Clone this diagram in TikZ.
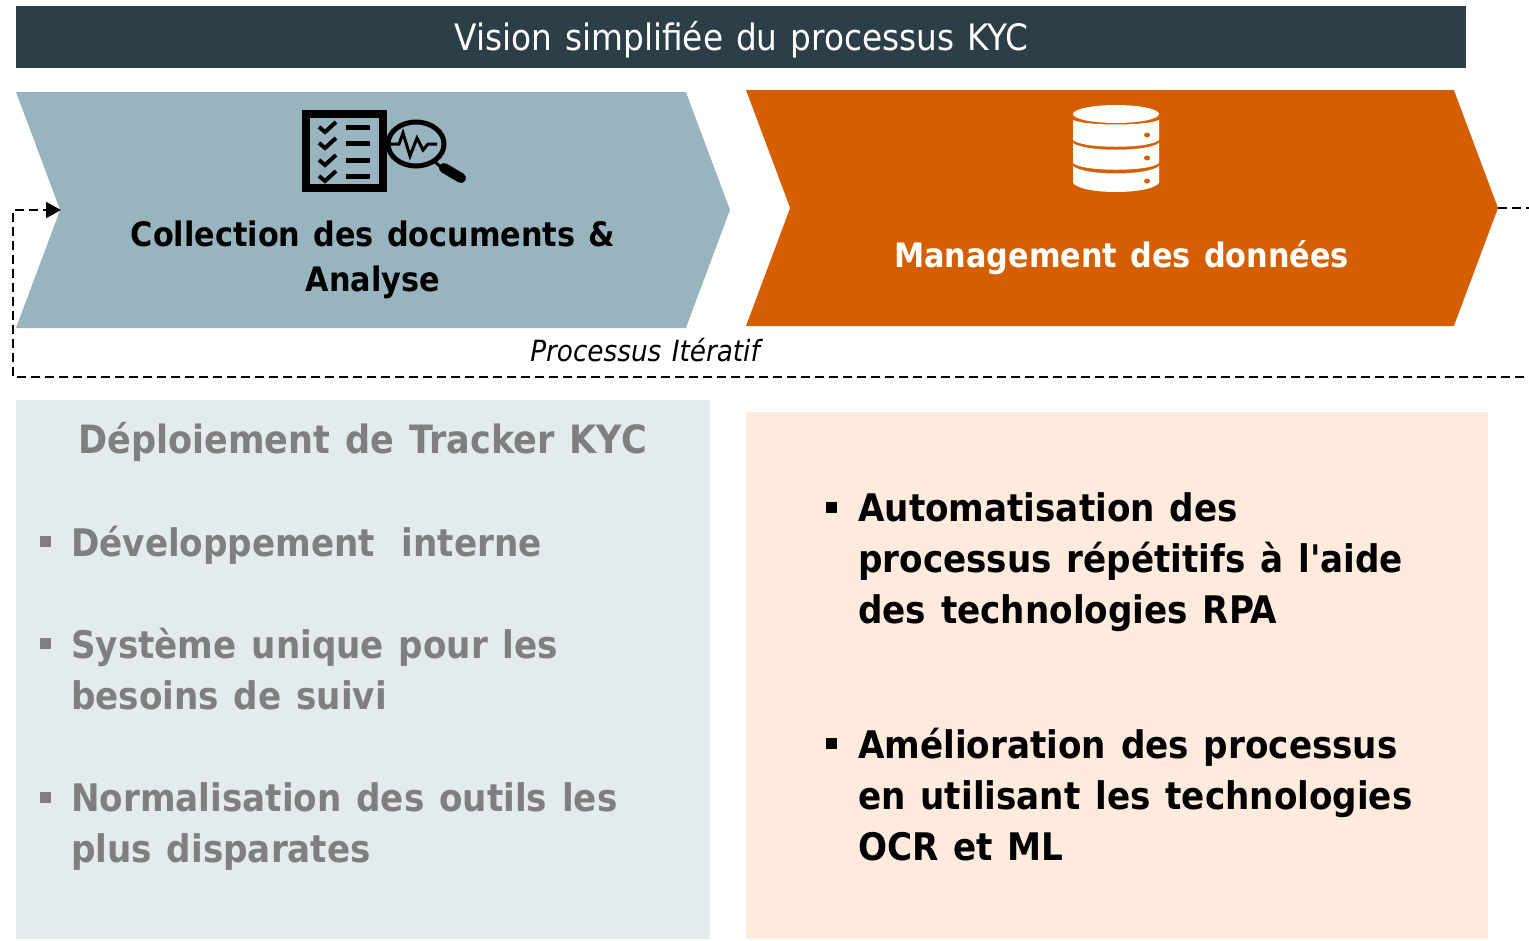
\documentclass[tikz,border=0pt]{standalone}
\usepackage{fontspec}
\setmainfont[WordSpace=1.25]{DejaVu Sans Condensed}
\usepackage{xcolor}
\usetikzlibrary{positioning,arrows.meta,shapes.symbols}
\definecolor{barcol}{HTML}{2C3E47}
\definecolor{chevblue}{HTML}{97B4BF}
\definecolor{chevorange}{HTML}{D55E00}
\definecolor{boxblue}{HTML}{E3EBED}
\definecolor{boxorange}{HTML}{FEEBDD}
\definecolor{greytext}{HTML}{7F7F7F}
\tikzset{
	chevron/.style={shape=signal,signal to=east,signal from=west,signal pointer angle=139,inner sep=0pt,minimum height=236pt,minimum width=#1},
	itemtext/.style={anchor=north west,inner sep=0pt,align=left,font=\fontsize{38}{51}\selectfont\bfseries},
	chevtext/.style={align=center,inner sep=0pt,font=\fontsize{33.7}{45}\selectfont\bfseries},
	itemmark/.style={fill=#1,minimum size=11pt,inner sep=0pt},
	iterline/.style={dashed,dash pattern=on 9pt off 5pt,line width=2pt}
}
\begin{document}
\begin{tikzpicture}[x=1pt,y=-1pt]
	\useasboundingbox (0,0) rectangle (1529,940);
	% header
	\node[fill=barcol,minimum width=1450pt,minimum height=62pt,inner sep=0pt] (title) at (741,37) {};
	\node[text=white,inner sep=0pt,font=\fontsize{36.4}{44}\selectfont] (titletext) at (741.5,40) {Vision simplifiée du processus KYC};
	% chevrons
	\node[chevron=714pt,fill=chevblue] (collect) at (373,210) {};
	\node[chevron=752pt,fill=chevorange] (manage) at (1122,208) {};
	\node[chevtext,text=black] (collecttext) at (373,260) {Collection des documents \&\\Analyse};
	\node[chevtext,text=white] (managetext) at (1121.5,258) {Management des données};
	% loop back
	\coordinate (loopout) at (1529,208);
	\coordinate (loopright) at (1524,377);
	\coordinate (loopleft) at (13,377);
	\coordinate (loopin) at (61,210);
	\draw[iterline] (manage.east) -- (loopout);
	\draw[iterline,-{Triangle[length=15pt,width=16pt]}] (loopright) -- (loopleft) |- (loopin);
	\node[inner sep=0pt,font=\fontsize{29.2}{36}\selectfont\itshape] (iterlabel) at (645,350) {Processus Itératif};
	% boxes
	\node[fill=boxblue,minimum width=694pt,minimum height=539pt,inner sep=0pt] (leftbox) at (363,669.5) {};
	\node[fill=boxorange,minimum width=742pt,minimum height=527pt,inner sep=0pt] (rightbox) at (1117,675.5) {};
	\node[itemtext,text=greytext,font=\fontsize{39}{51}\selectfont\bfseries] (lefthead) at (78,422) {Déploiement de Tracker KYC};
	\node[itemmark=greytext] (m1) at (45,541) {};
	\node[itemmark=greytext] (m2) at (45,643) {};
	\node[itemmark=greytext] (m3) at (45,797) {};
	\node[itemtext,text=greytext] (l1) at (71,526) {Développement\hspace{12pt} interne};
	\node[itemtext,text=greytext] (l2) at (71,628) {Système unique pour les\\besoins de suivi};
	\node[itemtext,text=greytext] (l3) at (71,782) {Normalisation des outils les\\plus disparates};
	\node[itemmark=black] (m4) at (831,507) {};
	\node[itemmark=black] (m5) at (831,743) {};
	\node[itemtext] (r1) at (858,492) {Automatisation des\\processus répétitifs à l\textquotesingle aide\\des technologies RPA};
	\node[itemtext] (r2) at (858,728) {Amélioration des processus\\en utilisant les technologies\\OCR et ML};
	% checklist icon
	\draw[line width=8pt] (306,114) rectangle (383,188);
	\foreach \y in {127,143,160,176}{
		\draw[line width=5pt] (346,\y) -- (370,\y);
		\draw[line width=4pt] (319,\y) -- (325,\y+5) -- (336,\y-5);
	}
	\draw[line width=5pt] (416,144) ellipse (28pt and 22pt);
	\draw[line width=3pt] (390,144) -- (399,144) -- (403,133) -- (410,156) -- (417,138) -- (423,150) -- (428,144) -- (437,144);
	\draw[line width=3pt] (434,161) -- (442,168);
	\draw[line width=10pt,line cap=round] (444,168) -- (461,178);
	% database icon
	\fill[white] (1116,114) ellipse (43pt and 9pt);
	\fill[white] (1073,120) .. controls (1085,126) and (1147,126) .. (1159,120) -- (1159,140) .. controls (1150,149) and (1082,149) .. (1073,140) -- cycle;
	\fill[white] (1073,143) .. controls (1085,152) and (1147,152) .. (1159,143) -- (1159,163) .. controls (1150,172) and (1082,172) .. (1073,163) -- cycle;
	\fill[white] (1073,166) .. controls (1085,176) and (1147,176) .. (1159,166) -- (1159,183) .. controls (1150,195) and (1082,195) .. (1073,183) -- cycle;
	\foreach \y in {135,158,181}
		\fill[chevorange] (1147,\y) ellipse (3pt and 2.5pt);
\end{tikzpicture}
\end{document}
